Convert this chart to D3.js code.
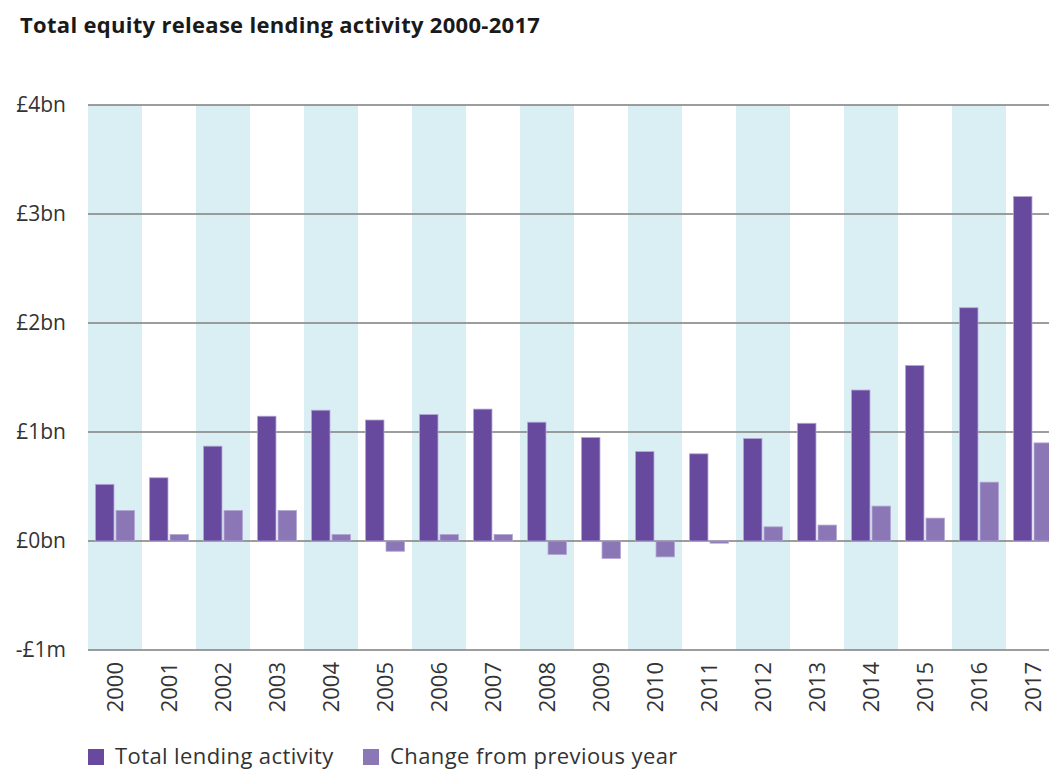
<!DOCTYPE html>
<html>
<head>
<meta charset="utf-8">
<script src="https://cdn.jsdelivr.net/npm/d3@7"></script>
<style>
  body { margin: 0; background: #fff; }
  svg { display: block; font-family: "Open Sans", Lato, sans-serif; }
</style>
</head>
<body>
<svg id="chart" width="1049" height="769"></svg>
<script>
// chart data (£bn)
const years = ["2000","2001","2002","2003","2004","2005","2006","2007","2008",
               "2009","2010","2011","2012","2013","2014","2015","2016","2017"];
const totalLending = [0.52, 0.58, 0.87, 1.145, 1.20, 1.11, 1.16, 1.21, 1.09,
                      0.95, 0.82, 0.80, 0.94, 1.08, 1.385, 1.61, 2.14, 3.16];
const changeFromPrev = [0.28, 0.06, 0.28, 0.28, 0.06, -0.094, 0.06, 0.06, -0.124,
                        -0.16, -0.146, -0.02, 0.13, 0.146, 0.32, 0.21, 0.54, 0.90];
const seriesNames = ["Total lending activity", "Change from previous year"];
const seriesColors = ["#674a9e", "#8b77b6"];
const yTicks = [4, 3, 2, 1, 0, -1];
const yTickLabels = ["£4bn", "£3bn", "£2bn", "£1bn", "£0bn", "-£1m"];

const svg = d3.select("#chart");
const W = 1049;
const plotLeft = 88, plotTop = 105, plotBottom = 650;
const step = 54;

// title
svg.append("text")
    .attr("x", 20)
    .attr("y", 33)
    .attr("font-size", 22)
    .attr("font-weight", "bold")
    .attr("letter-spacing", 0.3)
    .attr("fill", "#1a1a1a")
    .text("Total equity release lending activity 2000-2017");

let x0 = d3.scaleBand()
    .domain(years)
    .range([plotLeft, plotLeft + step * years.length])
    .padding(0);

let x1 = d3.scaleBand()
    .domain(seriesNames)
    .range([7.5, 46.5])
    .paddingInner(0.1);

let y = d3.scaleLinear()
    .domain([-1, 4])
    .range([plotBottom, plotTop]);

// alternating stripes
svg.append("g").selectAll("rect")
    .data(years.filter((d, i) => i % 2 === 0))
    .enter().append("rect")
    .attr("x", d => x0(d))
    .attr("y", y(4))
    .attr("width", x0.bandwidth())
    .attr("height", y(-1) - y(4))
    .attr("fill", "#d9eff4");

// gridlines
svg.append("g").selectAll("line")
    .data(yTicks)
    .enter().append("line")
    .attr("x1", plotLeft)
    .attr("x2", W)
    .attr("y1", d => y(d))
    .attr("y2", d => y(d))
    .attr("stroke", "#8c8c8c")
    .attr("stroke-opacity", 0.85)
    .attr("stroke-width", 2.2);

// y labels
svg.append("g").selectAll("text")
    .data(yTicks)
    .enter().append("text")
    .attr("x", 66)
    .attr("y", d => y(d))
    .attr("dy", "0.35em")
    .attr("text-anchor", "end")
    .attr("font-size", 21)
    .attr("fill", "#333")
    .text((d, i) => yTickLabels[i]);

// bars
let rows = years.map((yr, i) => ({
    year: yr,
    vals: [totalLending[i], changeFromPrev[i]]
}));

let groups = svg.append("g").selectAll("g")
    .data(rows)
    .enter().append("g")
    .attr("transform", d => `translate(${x0(d.year)},0)`);

groups.selectAll("rect")
    .data(d => d.vals.map((v, k) => ({ v, k })))
    .enter().append("rect")
    .attr("x", d => x1(seriesNames[d.k]))
    .attr("width", x1.bandwidth())
    .attr("y", d => y(Math.max(0, d.v)))
    .attr("height", d => Math.abs(y(d.v) - y(0)))
    .attr("fill", d => seriesColors[d.k])
    .attr("stroke", "#b3a6d4")
    .attr("stroke-width", 0.8);

// x labels, rotated
svg.append("g").selectAll("text")
    .data(years)
    .enter().append("text")
    .attr("transform", d => `translate(${x0(d) + step / 2},662) rotate(-90)`)
    .attr("dy", "0.35em")
    .attr("text-anchor", "end")
    .attr("font-size", 22)
    .attr("fill", "#333")
    .text(d => d);

// legend
let legendX = [88, 363];
let legend = svg.append("g").selectAll("g")
    .data(seriesNames)
    .enter().append("g")
    .attr("transform", (d, i) => `translate(${legendX[i]},749)`);

legend.append("rect")
    .attr("width", 16)
    .attr("height", 16)
    .attr("fill", (d, i) => seriesColors[i]);

legend.append("text")
    .attr("x", 27)
    .attr("y", 15)
    .attr("font-size", 22)
    .attr("letter-spacing", 0.4)
    .attr("fill", "#333")
    .text(d => d);
</script>
</body>
</html>
